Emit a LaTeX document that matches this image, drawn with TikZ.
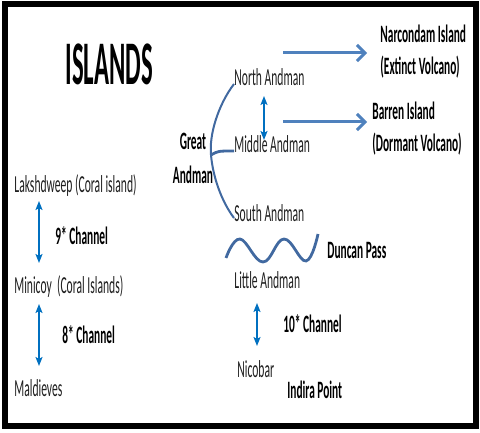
\documentclass[tikz,border=0pt]{standalone}
\usepackage{fontspec}
\setmainfont{Carlito}[FakeStretch=0.475]
\newfontfamily\tagfont{Carlito}[FakeStretch=0.455]
\newfontfamily\headfont{Carlito}[FakeStretch=0.40]
\usetikzlibrary{arrows.meta}
\definecolor{arrowblue}{RGB}{79,129,189}
\definecolor{linkblue}{RGB}{0,112,192}
\definecolor{curveblue}{RGB}{65,105,160}

\begin{document}
\begin{tikzpicture}[x=0.5pt,y=-0.5pt,
    place/.style={anchor=base west,inner sep=0pt,text=black!88,font=\fontsize{12.2}{16}\selectfont},
    tag/.style={anchor=base west,inner sep=0pt,align=left,font=\tagfont\bfseries\fontsize{12.5}{16}\selectfont},
    link/.style={linkblue,line width=0.8pt,{Stealth[length=4.5pt,width=3.5pt,inset=1pt]}-{Stealth[length=4.5pt,width=3.5pt,inset=1pt]}},
    lead/.style={arrowblue,line width=1.5pt,-{Straight Barb[length=4pt,width=8pt]}}]
    \useasboundingbox (0,0) rectangle (480,432);
    \draw[line width=3pt] (4.5,4.5) rectangle (476,426);
    \node[anchor=base west,inner sep=0pt,font=\headfont\bfseries\fontsize{31}{36}\selectfont] (title) at (65,85) {ISLANDS};
    % west coast
    \node[place] (lak) at (14,193) {Lakshdweep (Coral island)};
    \node[place] (mini) at (14,293) {Minicoy~~(Coral Islands)};
    \node[place] (mald) at (14,396) {Maldieves};
    \node[tag] (ch9) at (55,244) {9* Channel};
    \node[tag] (ch8) at (62,343) {8* Channel};
    \draw[link] ([shift={(25,8)}]lak.base west) -- ([shift={(25,-30)}]mini.base west);
    \draw[link] ([shift={(25,11)}]mini.base west) -- ([shift={(25,-30)}]mald.base west);
    % andaman and nicobar
    \node[tag,anchor=base,align=center,font=\tagfont\bfseries\fontsize{12.5}{17}\selectfont] (great) at (193,184) {Great\\Andman};
    \node[place] (north) at (234,86) {North Andman};
    \node[place] (middle) at (234,153) {Middle Andman};
    \node[place] (south) at (234,221) {South Andman};
    \node[place] (little) at (234,288) {Little Andman};
    \node[place] (nicobar) at (237,377) {Nicobar};
    \node[tag] (narcondam) at (380,75) {Narcondam Island\\(Extinct Volcano)};
    \node[tag] (barren) at (372,152) {Barren Island\\(Dormant Volcano)};
    \node[tag] (duncan) at (327,258) {Duncan Pass};
    \node[tag] (ch10) at (283,332) {10* Channel};
    \node[tag] (indira) at (287,398) {Indira Point};
    \coordinate (fork) at (211,155);
    \draw[curveblue,line width=1pt] ([yshift=1pt]north.base west) .. controls (218,105) and (209,135) .. (fork)
        .. controls (213,178) and (222,202) .. ([yshift=1.5pt]south.base west);
    \draw[curveblue,line width=1.4pt] (fork) .. controls (218,151) .. ([yshift=1pt]middle.base west);
    \draw[link] ([shift={(30,10)}]north.base west) -- ([shift={(30,-13)}]middle.base west);
    \draw[lead] ([shift={(49,-33)}]north.base west) -- ([shift={(-13,-22)}]narcondam.base west);
    \draw[lead] ([shift={(49,-31)}]middle.base west) -- ([shift={(-5,-30)}]barren.base west);
    \draw[curveblue,line width=1.4pt] plot[smooth,tension=0.7] coordinates {(226,258) (240,239) (263,262) (284,239) (306,261) (318,234)};
    \draw[link] ([shift={(23,15)}]little.base west) -- ([shift={(20,-31)}]nicobar.base west);
\end{tikzpicture}
\end{document}
